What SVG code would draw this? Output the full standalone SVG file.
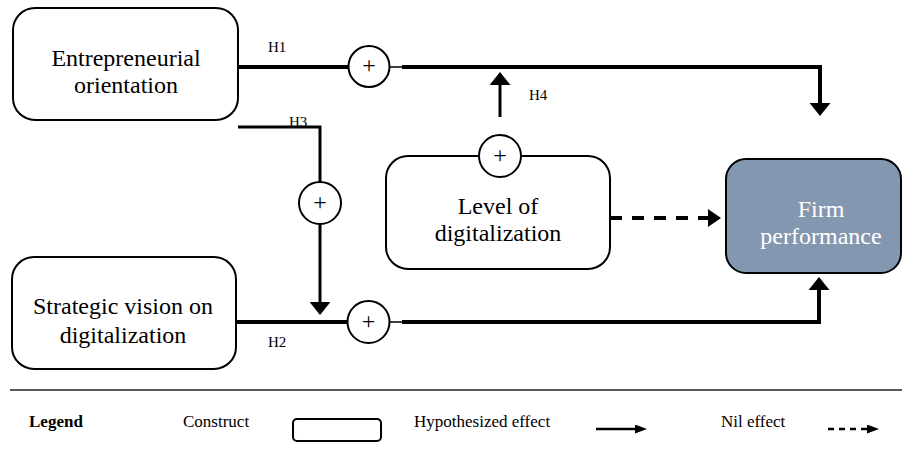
<svg xmlns="http://www.w3.org/2000/svg" width="902" height="460" viewBox="0 0 902 460">
<style>
  .box { fill: #ffffff; stroke: #000000; stroke-width: 2; }
  .fp { fill: #8497B0; stroke: #000000; stroke-width: 2; }
  .lbl { font-family: "Liberation Serif", "Times New Roman", serif; font-size: 24px; fill: #000000; text-anchor: middle; }
  .lblw { font-family: "Liberation Serif", "Times New Roman", serif; font-size: 24px; fill: #ffffff; text-anchor: middle; }
  .h { font-family: "Liberation Serif", "Times New Roman", serif; font-size: 15px; fill: #000000; }
  .leg { font-family: "Liberation Serif", "Times New Roman", serif; font-size: 17px; fill: #000000; }
  .legb { font-family: "Liberation Serif", "Times New Roman", serif; font-size: 17px; font-weight: bold; fill: #000000; }
  .thick { fill: none; stroke: #000000; stroke-width: 4; }
  .mid { fill: none; stroke: #000000; stroke-width: 3; }
  .thin { fill: none; stroke: #000000; stroke-width: 1.5; }
  .dash { fill: none; stroke: #000000; stroke-width: 4; stroke-dasharray: 12 10; }
  .circ { fill: #ffffff; stroke: #000000; stroke-width: 2; }
  .plus { font-family: "Liberation Serif", "Times New Roman", serif; font-size: 24px; fill: #000000; text-anchor: middle; }
</style>
<defs>
  <marker id="ah" markerUnits="userSpaceOnUse" viewBox="0 0 13 21" markerWidth="13" markerHeight="21" refX="0" refY="10.5" orient="auto">
    <path d="M0,0 L13,10.5 L0,21 z" fill="#000000"/>
  </marker>
  <marker id="ahd" markerUnits="userSpaceOnUse" viewBox="0 0 13 18" markerWidth="13" markerHeight="18" refX="0" refY="9" orient="auto">
    <path d="M0,0 L13,9 L0,18 z" fill="#000000"/>
  </marker>
  <marker id="ahs" markerUnits="userSpaceOnUse" viewBox="0 0 12 9" markerWidth="12" markerHeight="9" refX="0" refY="4.5" orient="auto">
    <path d="M0,0 L12,4.5 L0,9 z" fill="#000000"/>
  </marker>
</defs>

<g id="connectors">
  <!-- H1 -->
  <path class="thick" d="M238,67 H349"/>
  <path class="thin" d="M389,67 H403"/>
  <path class="thick" d="M402,67 H820 V103" marker-end="url(#ah)"/>
  <!-- H3 -->
  <path class="mid" d="M238,127 H320 V182"/>
  <path class="mid" d="M320,224 V302" marker-end="url(#ah)"/>
  <!-- H2 -->
  <path class="thick" d="M236,322 H348"/>
  <path class="thin" d="M389,322 H403"/>
  <path class="thick" d="M402,322 H819 V290" marker-end="url(#ah)"/>
  <!-- H4 -->
  <path class="mid" d="M500,117 V85" marker-end="url(#ah)"/>
  <!-- Nil effect -->
  <path class="dash" d="M610,218 H708" marker-end="url(#ahd)"/>
</g>

<g id="entrepreneurial-orientation">
  <rect class="box" x="13" y="8" width="225" height="112" rx="22"/>
  <text class="lbl" x="126" y="66">Entrepreneurial</text>
  <text class="lbl" x="126" y="93">orientation</text>
</g>

<g id="strategic-vision">
  <rect class="box" x="12" y="257" width="224" height="112" rx="22"/>
  <text class="lbl" x="123" y="314">Strategic vision on</text>
  <text class="lbl" x="123" y="343">digitalization</text>
</g>

<g id="level-of-digitalization">
  <rect class="box" x="386" y="156" width="224" height="113" rx="22"/>
  <text class="lbl" x="498" y="214">Level of</text>
  <text class="lbl" x="498" y="241">digitalization</text>
</g>

<g id="firm-performance">
  <rect class="fp" x="726" y="159" width="175" height="114" rx="20"/>
  <text class="lblw" x="821" y="217">Firm</text>
  <text class="lblw" x="821" y="244">performance</text>
</g>

<g id="moderator-h1">
  <circle class="circ" cx="369" cy="66.5" r="20.5"/>
  <text class="plus" x="369" y="73">+</text>
</g>
<g id="moderator-h3">
  <circle class="circ" cx="320" cy="203" r="21"/>
  <text class="plus" x="320" y="209.5">+</text>
</g>
<g id="moderator-h2">
  <circle class="circ" cx="368.5" cy="322" r="21"/>
  <text class="plus" x="368.5" y="328.5">+</text>
</g>
<g id="moderator-h4">
  <circle class="circ" cx="500" cy="156" r="21"/>
  <text class="plus" x="500" y="162.5">+</text>
</g>

<g id="hypothesis-labels">
  <text class="h" x="268" y="52">H1</text>
  <text class="h" x="289" y="127">H3</text>
  <text class="h" x="529" y="100">H4</text>
  <text class="h" x="268" y="347">H2</text>
</g>

<g id="legend">
  <line x1="10" y1="390" x2="902" y2="390" stroke="#222222" stroke-width="1.5"/>
  <text class="legb" x="29" y="427">Legend</text>
  <text class="leg" x="183" y="427">Construct</text>
  <rect x="293" y="419" width="88" height="22" rx="4" fill="#ffffff" stroke="#000000" stroke-width="2"/>
  <text class="leg" x="414" y="427">Hypothesized effect</text>
  <path d="M596,429 H635" fill="none" stroke="#000000" stroke-width="2.5" marker-end="url(#ahs)"/>
  <text class="leg" x="721" y="427">Nil effect</text>
  <path d="M828,429 H867" fill="none" stroke="#000000" stroke-width="2.5" stroke-dasharray="6 5" marker-end="url(#ahs)"/>
</g>
</svg>
